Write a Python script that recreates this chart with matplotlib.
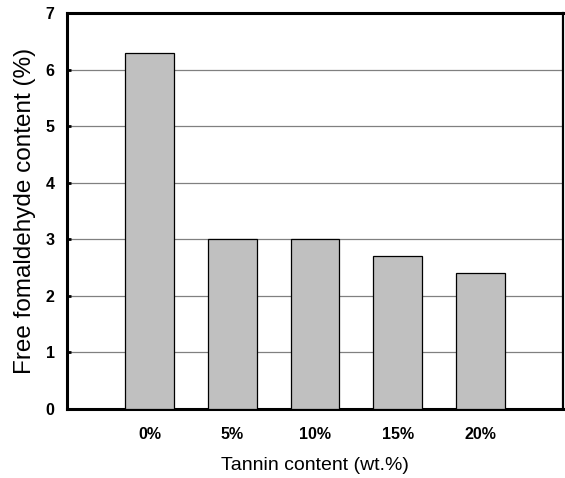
import numpy as np
import matplotlib.pyplot as plt

categories = ["0%", "5%", "10%", "15%", "20%"]
free_formaldehyde = [6.3, 3.0, 3.0, 2.7, 2.4]

plt.rcParams['font.family'] = ['Liberation Sans', 'DejaVu Sans']

fig = plt.figure(figsize=(5.65, 4.78), dpi=100)
ax = fig.add_axes([0.1186, 0.1444, 0.878, 0.828])

pos = np.arange(1, len(categories) + 1)
ax.bar(pos, free_formaldehyde, width=0.59, color="#c0c0c0",
       edgecolor="black", linewidth=0.9, zorder=3)

ax.set_xlim(0, 6)
ax.set_ylim(0, 7)
ax.set_xticks(pos)
ax.set_xticklabels(categories, fontweight="bold", fontsize=11.5)
ax.set_yticks(range(0, 8))
ax.set_yticklabels([str(v) for v in range(0, 8)], fontweight="bold", fontsize=11.5)

ax.yaxis.grid(True, color="#808080", linewidth=0.9, zorder=0)
ax.set_axisbelow(True)

ax.tick_params(axis="x", length=0, pad=13)
ax.tick_params(axis="y", direction="in", length=3, width=2, pad=9)

for side in ["left", "top", "bottom"]:
    ax.spines[side].set_linewidth(2.2)
ax.spines["right"].set_linewidth(1.6)

ax.set_xlabel("Tannin content (wt.%)", fontsize=14, labelpad=11)
ax.set_ylabel("Free fomaldehyde content (%)", fontsize=17.5, labelpad=7)

plt.savefig("out.png", dpi=100)
